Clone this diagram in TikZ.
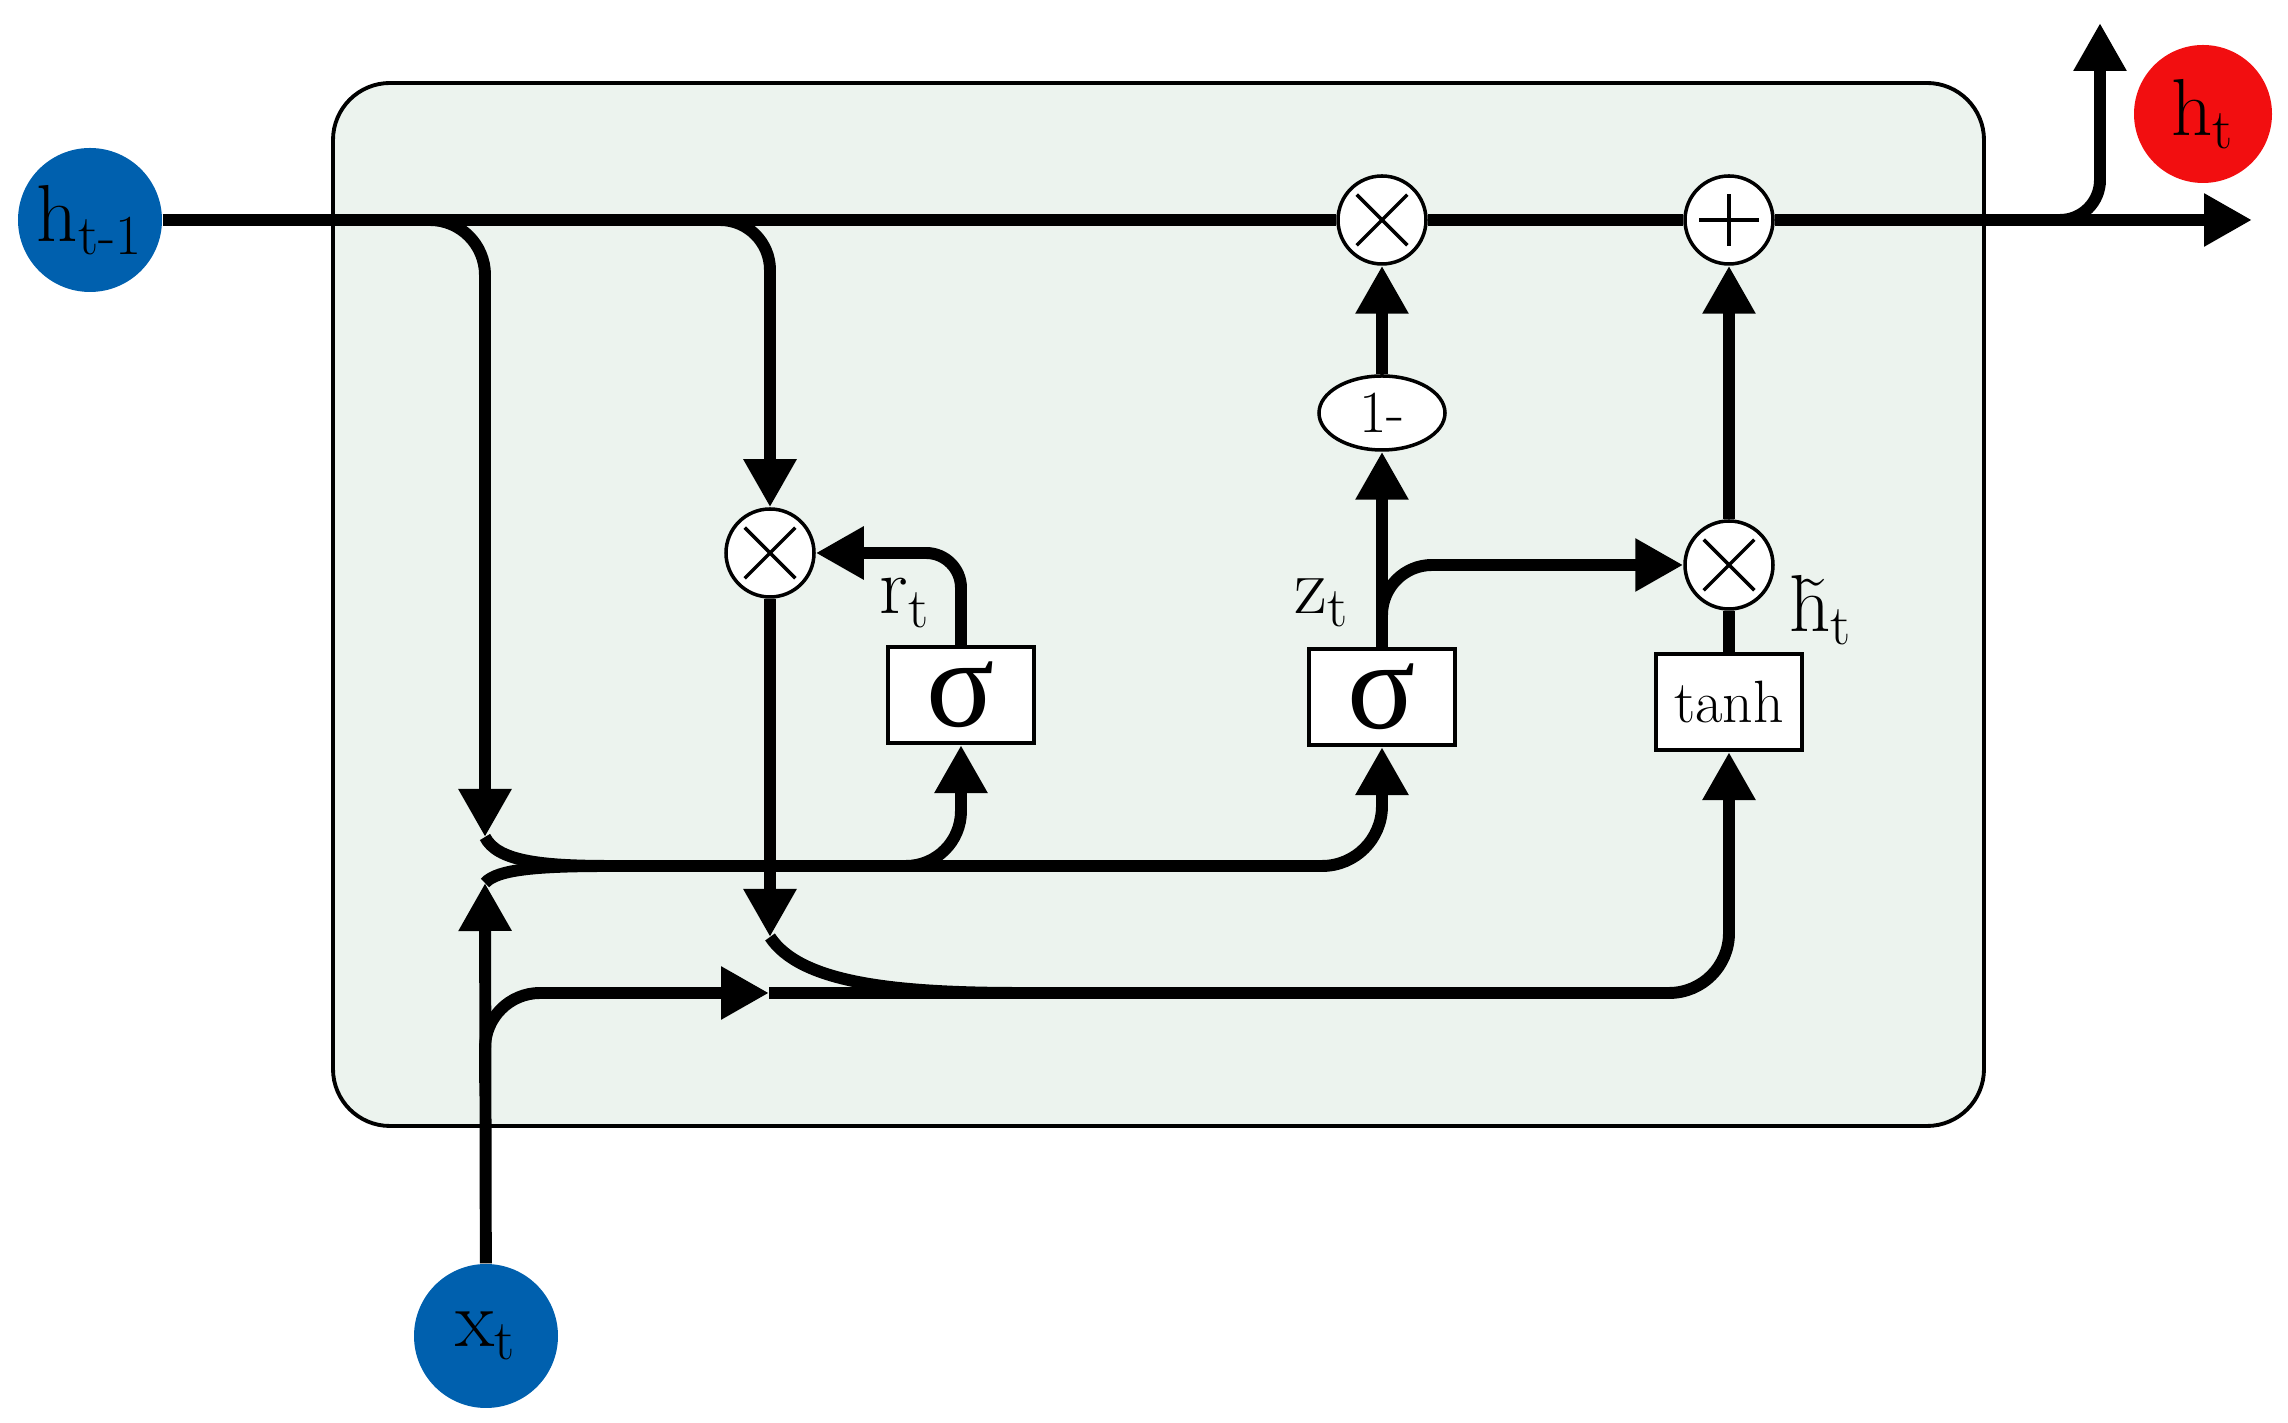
\documentclass[tikz,border=0pt]{standalone}
\usepackage{fontspec}
\usepackage{tikz}
\usetikzlibrary{arrows.meta,shapes.geometric}
\newfontfamily\grk{Liberation Serif}
\pgfdeclarelayer{bg}
\pgfsetlayers{bg,main}
\definecolor{cellfill}{RGB}{236,243,238}
\definecolor{inblue}{RGB}{0,96,174}
\definecolor{outred}{RGB}{242,14,16}
\tikzset{
    op/.style={circle, draw, fill=white, line width=1pt, minimum size=8.8mm, inner sep=0mm},
    gate/.style={rectangle, draw, fill=white, line width=1.2pt, minimum width=14.6mm, minimum height=9.6mm, inner sep=0mm},
    io/.style={circle, inner sep=0mm, minimum size=14.4mm, font=\fontsize{23}{26}\selectfont},
    lbl/.style={inner sep=0mm, font=\fontsize{23}{26}\selectfont},
    wire/.style={line width=3.4pt},
    flow/.style={wire, -{Triangle[length=4.8mm, width=5mm]}},
    cellbox/.style={draw, fill=cellfill, line width=1.1pt, rounded corners=5.7mm}
}

\begin{document}
\begin{tikzpicture}
    \useasboundingbox (0cm, 0cm) rectangle (22.88cm, 14.23cm);

    \node (hprev) [io, fill=inblue] at (0.90cm, 12.03cm) {h\textsubscript{t-1}};
    \node (hnext) [io, fill=outred, minimum size=13.8mm] at (22.03cm, 13.09cm) {h\textsubscript{t}};
    \node (xt) [io, fill=inblue] at (4.86cm, 0.87cm) {x\textsubscript{t}};

    \node (xtop) [op] at (13.82cm, 12.03cm) {};
    \node (plus) [op] at (17.29cm, 12.03cm) {};
    \node (onem) [ellipse, draw, fill=white, line width=1pt, minimum width=12.6mm, minimum height=7.4mm, inner sep=0mm, font=\fontsize{17}{20}\selectfont] at (13.82cm, 10.10cm) {1-};
    \node (rmul) [op] at (7.70cm, 8.70cm) {};
    \node (zmul) [op] at (17.29cm, 8.58cm) {};
    \node (sigr) [gate, font=\grk\fontsize{36}{40}\selectfont] at (9.61cm, 7.28cm) {σ};
    \node (sigz) [gate, font=\grk\fontsize{36}{40}\selectfont] at (13.82cm, 7.26cm) {σ};
    \node (tanh) [gate, font=\fontsize{17}{20}\selectfont] at (17.29cm, 7.21cm) {tanh};

    \node (rt) [lbl] at (9.05cm, 8.20cm) {r\textsubscript{t}};
    \node (zt) [lbl] at (13.22cm, 8.20cm) {z\textsubscript{t}};
    \node (ht) [lbl] at (18.21cm, 8.13cm) {\~{h}\textsubscript{t}};

    \foreach \m in {xtop, rmul, zmul} {
        \draw[line width=1pt, shorten >=1mm, shorten <=1mm] (\m.north west) -- (\m.south east);
        \draw[line width=1pt, shorten >=1mm, shorten <=1mm] (\m.north east) -- (\m.south west);
    }
    \draw[line width=1pt, shorten >=2mm, shorten <=2mm] (plus.north) -- (plus.south);
    \draw[line width=1pt, shorten >=1.6mm, shorten <=1.6mm] (plus.west) -- (plus.east);

    \coordinate (hend) at (22.52cm, 12.03cm);
    \coordinate (brh) at (20.45cm, 12.03cm);
    \coordinate (hup) at (21.00cm, 14.00cm);
    \coordinate (hl) at (4.25cm, 12.03cm);
    \coordinate (hltip) at (4.85cm, 5.86cm);
    \coordinate (xtip) at (4.85cm, 5.40cm);
    \coordinate (mg) at (6.10cm, 5.57cm);
    \coordinate (rb) at (8.80cm, 5.57cm);
    \coordinate (xb) at (4.85cm, 3.40cm);
    \coordinate (xarr) at (7.69cm, 4.30cm);
    \coordinate (rtip) at (7.70cm, 4.86cm);
    \coordinate (cand) at (10.20cm, 4.30cm);
    \coordinate (hr) at (7.15cm, 12.03cm);
    \coordinate (zb) at (13.82cm, 7.90cm);

    \begin{pgfonlayer}{bg}
        \draw[cellbox] (3.33cm, 2.97cm) rectangle (19.84cm, 13.40cm);
        \draw[wire] (hprev) -- (xtop) -- (plus);
        \draw[flow] (plus) -- (hend);
        \draw[flow, rounded corners=4mm] (brh) -| (hup);
        \draw[flow, rounded corners=5.5mm] (hl) -| (hltip);
        \draw[flow] (xt) -- (xtip);
        \draw[wire] (hltip) .. controls +(0.12cm,-0.24cm) and +(-0.7cm,0cm) .. (mg);
        \draw[wire] (xtip) .. controls +(0.12cm,0.14cm) and +(-0.7cm,0cm) .. (mg);
        \draw[flow, rounded corners=6mm] (mg) -| (sigz);
        \draw[flow, rounded corners=5.5mm] (rb) -| (sigr);
        \draw[flow, rounded corners=5.5mm] (xb) |- (xarr);
        \draw[flow, rounded corners=5mm] (hr) -| (rmul);
        \draw[flow] (rmul) -- (rtip);
        \draw[wire] (rtip) .. controls +(0.3cm,-0.45cm) and +(-1.3cm,0cm) .. (cand);
        \draw[flow, rounded corners=6mm] (xarr) -| (tanh);
        \draw[flow, rounded corners=3.5mm] (sigr) |- (rmul);
        \draw[flow] (sigz) -- (onem);
        \draw[flow] (onem) -- (xtop);
        \draw[flow, rounded corners=5mm] (zb) |- (zmul);
        \draw[flow] (zmul) -- (plus);
        \draw[wire] (tanh) -- (zmul);
    \end{pgfonlayer}
\end{tikzpicture}
\end{document}
